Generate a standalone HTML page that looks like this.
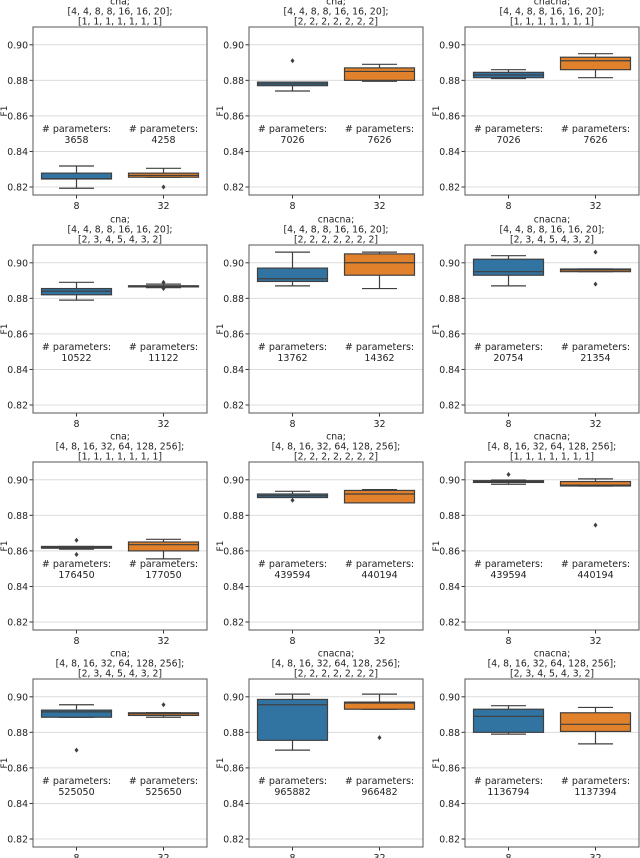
<!DOCTYPE html>
<html><head><meta charset="utf-8"><style>
body{margin:0;background:#fff;width:640px;height:858px;overflow:hidden}
svg{display:block;font-family:"DejaVu Sans","Liberation Sans",sans-serif}
</style></head><body>
<svg id="chart" width="640" height="858" viewBox="0 0 640 858"></svg>
<script>
const titles=[
["cna;","[4, 4, 8, 8, 16, 16, 20];","[1, 1, 1, 1, 1, 1, 1]"],
["cna;","[4, 4, 8, 8, 16, 16, 20];","[2, 2, 2, 2, 2, 2, 2]"],
["cnacna;","[4, 4, 8, 8, 16, 16, 20];","[1, 1, 1, 1, 1, 1, 1]"],
["cna;","[4, 4, 8, 8, 16, 16, 20];","[2, 3, 4, 5, 4, 3, 2]"],
["cnacna;","[4, 4, 8, 8, 16, 16, 20];","[2, 2, 2, 2, 2, 2, 2]"],
["cnacna;","[4, 4, 8, 8, 16, 16, 20];","[2, 3, 4, 5, 4, 3, 2]"],
["cna;","[4, 8, 16, 32, 64, 128, 256];","[1, 1, 1, 1, 1, 1, 1]"],
["cna;","[4, 8, 16, 32, 64, 128, 256];","[2, 2, 2, 2, 2, 2, 2]"],
["cnacna;","[4, 8, 16, 32, 64, 128, 256];","[1, 1, 1, 1, 1, 1, 1]"],
["cna;","[4, 8, 16, 32, 64, 128, 256];","[2, 3, 4, 5, 4, 3, 2]"],
["cnacna;","[4, 8, 16, 32, 64, 128, 256];","[2, 2, 2, 2, 2, 2, 2]"],
["cnacna;","[4, 8, 16, 32, 64, 128, 256];","[2, 3, 4, 5, 4, 3, 2]"]];
const categories=["8","32"];
const params=[[3658,4258],[7026,7626],[7026,7626],[10522,11122],[13762,14362],[20754,21354],[176450,177050],[439594,440194],[439594,440194],[525050,525650],[965882,966482],[1136794,1137394]];
// [wmin,q1,med,q3,wmax] per subplot, for 8 and 32
const stats8=[[.8193,.8245,.8247,.8278,.8318],[.874,.877,.878,.879,.879],[.881,.8815,.883,.8845,.886],[.879,.882,.884,.8855,.889],[.887,.8895,.891,.897,.906],[.887,.893,.895,.902,.904],[.861,.8615,.862,.8625,.8625],[.8905,.890,.891,.892,.8935],[.8975,.8985,.899,.8995,.8998],[.8885,.8885,.8915,.8925,.8955],[.870,.8755,.8955,.8985,.9015],[.879,.880,.889,.893,.895]];
const stats32=[[.8255,.8255,.8265,.8278,.8305],[.8795,.880,.885,.887,.889],[.8815,.886,.891,.893,.895],[.886,.8865,.887,.887,.888],[.8855,.893,.900,.905,.906],[.895,.895,.896,.8965,.8965],[.8555,.860,.8635,.865,.8665],[.887,.887,.892,.894,.8945],[.8965,.8965,.897,.899,.9005],[.8885,.8895,.8905,.891,.891],[.893,.893,.8965,.897,.9015],[.8735,.8805,.8845,.891,.894]];
const outliers8=[[],[.891],[],[],[],[],[.866,.858],[.8885],[.903],[.870],[],[]];
const outliers32=[[.820],[],[],[.889,.8855],[],[.906,.888],[],[],[.8745],[.8955],[.877],[]];
const yTicks=[0.82,0.84,0.86,0.88,0.90];

const svg=document.getElementById('chart');
const NS='http://www.w3.org/2000/svg';
function mk(tag,attrs,parent){const e=document.createElementNS(NS,tag);for(const k in attrs)e.setAttribute(k,attrs[k]);(parent||svg).appendChild(e);return e;}
const colX=[33,249,465],rowY=[27,245,462,679],W=174,H=168;
const colors=["#3274a1","#e1812c"];
const ymin=0.8155,ymax=0.91;
for(let i=0;i<12;i++){
  const x0=colX[i%3],y0=rowY[Math.floor(i/3)];
  const g=mk('g',{});
  
  
  const yS=v=>y0+H-(v-ymin)/(ymax-ymin)*H;
  const xS=c=>x0+W*(c*2+1)/4;
  yTicks.forEach(t=>{
    const gl=mk('line',{x1:x0,x2:x0+W,y1:yS(t),y2:yS(t),stroke:'#dcdcdc','stroke-width':1},g);
    
    mk('line',{x1:x0-3.5,x2:x0,y1:yS(t),y2:yS(t),stroke:'#333'},g);
    const tl=mk('text',{x:x0-5,y:yS(t)+3.5,'text-anchor':'end','font-size':9.3,fill:'#222'},g);
    tl.textContent=t.toFixed(2);
    
  });
  const yl=mk('text',{x:0,y:0,transform:`translate(${x0-26},${y0+H/2}) rotate(-90)`,'text-anchor':'middle','font-size':9,fill:'#222'},g);
  yl.textContent='F1';
  titles[i].forEach((s,k)=>{
    const t=mk('text',{x:x0+W/2,y:y0-22.5+k*10,'text-anchor':'middle','font-size':9.3,fill:'#222'},g);
    t.textContent=s;
  });
  [stats8[i],stats32[i]].forEach((s,c)=>{
    const cx=xS(c),bw=70;
    const [wl,q1,md,q3,wh]=s;
    mk('line',{x1:cx,x2:cx,y1:yS(wh),y2:yS(q3),stroke:'#3f3f3f','stroke-width':1.2},g);
    mk('line',{x1:cx,x2:cx,y1:yS(q1),y2:yS(wl),stroke:'#3f3f3f','stroke-width':1.2},g);
    mk('line',{x1:cx-bw/4,x2:cx+bw/4,y1:yS(wh),y2:yS(wh),stroke:'#3f3f3f','stroke-width':1.2},g);
    mk('line',{x1:cx-bw/4,x2:cx+bw/4,y1:yS(wl),y2:yS(wl),stroke:'#3f3f3f','stroke-width':1.2},g);
    const b=mk('rect',{x:cx-bw/2,y:yS(q3),width:bw,height:Math.max(1,yS(q1)-yS(q3)),fill:colors[c],stroke:'#3f3f3f','stroke-width':1.2},g);
    
    mk('line',{x1:cx-bw/2,x2:cx+bw/2,y1:yS(md),y2:yS(md),stroke:'#3f3f3f','stroke-width':1.2},g);
    (c===0?outliers8[i]:outliers32[i]).forEach(o=>{
      const p=mk('path',{d:`M${cx} ${yS(o)-2.5}L${cx+2} ${yS(o)}L${cx} ${yS(o)+2.5}L${cx-2} ${yS(o)}Z`,fill:'#3f3f3f'},g);
      
    });
    const pt=mk('text',{x:cx,y:yS(0.8525)+3,'text-anchor':'middle','font-size':9.5,fill:'#222'},g);
    pt.textContent='# parameters:';
    const pv=mk('text',{x:cx,y:yS(0.8525)+14,'text-anchor':'middle','font-size':9.5,fill:'#222'},g);
    pv.textContent=params[i][c];
    mk('line',{x1:cx,x2:cx,y1:y0+H,y2:y0+H+3.5,stroke:'#333'},g);
    const xl=mk('text',{x:cx,y:y0+H+14,'text-anchor':'middle','font-size':9.5,fill:'#222'},g);
    xl.textContent=categories[c];
  });
  const fr=mk('rect',{x:x0,y:y0,width:W,height:H,fill:'none',stroke:'#555','stroke-width':1},g);
  
}
</script>
</body></html>
